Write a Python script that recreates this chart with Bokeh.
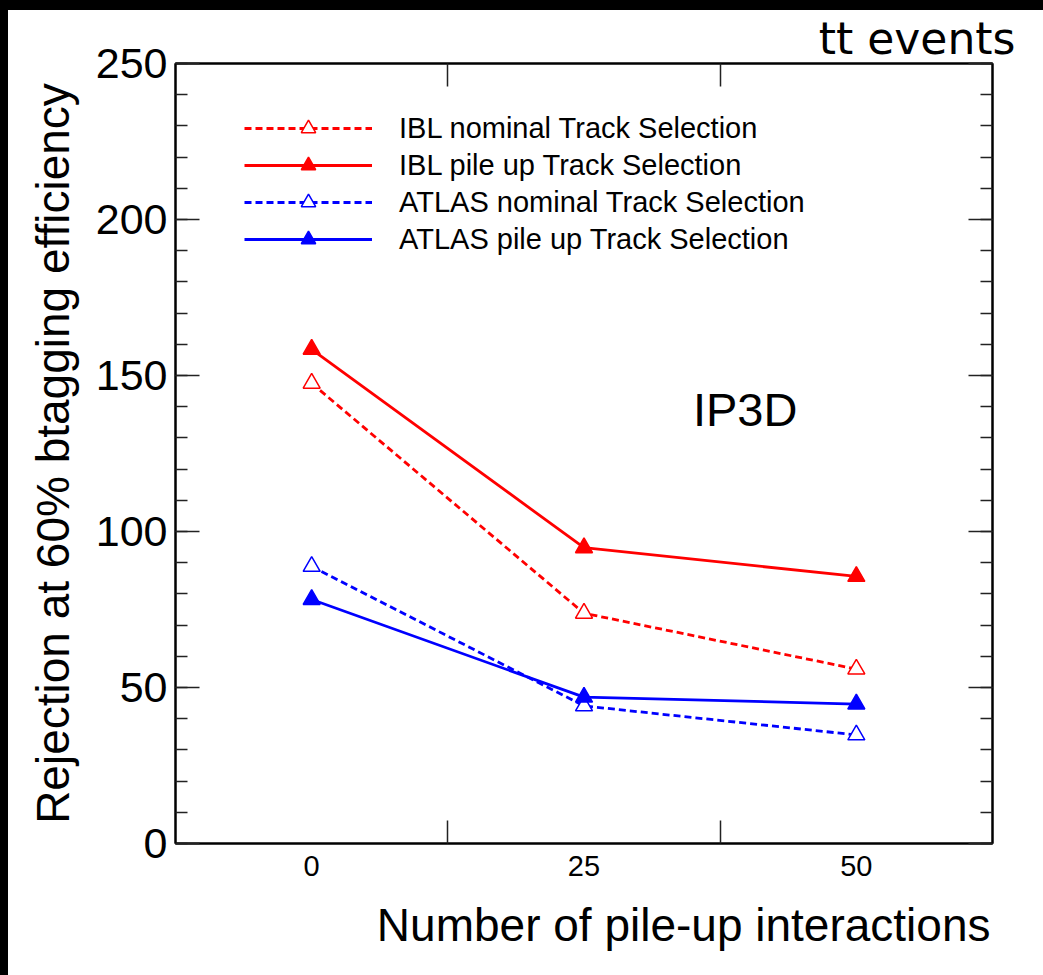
from bokeh.plotting import figure
from bokeh.models import (Range1d, LinearAxis, FixedTicker, SingleIntervalTicker,
                          Legend, LegendItem, Label, Title, Div, ColumnDataSource)
from bokeh.layouts import column, row
from bokeh.embed import file_html
from bokeh.resources import INLINE

# ---- data ----
pileup = [0, 25, 50]
ibl_nominal = [147.5, 73.8, 55.9]
ibl_pileup = [158.4, 94.8, 85.6]
atlas_nominal = [88.8, 44.1, 34.8]
atlas_pileup = [78.2, 46.9, 44.7]
x_tick_labels = ["0", "25", "50"]
series_names = ["IBL nominal Track Selection", "IBL pile up Track Selection",
                "ATLAS nominal Track Selection", "ATLAS pile up Track Selection"]
y_major = [0, 50, 100, 150, 200, 250]

FONT = "Liberation Sans"

p = figure(width=1035, height=965, output_backend="svg", toolbar_location=None,
           x_range=Range1d(-12.5, 62.5), y_range=Range1d(0, 250),
           min_border_left=167, min_border_right=51, min_border_top=50,
           min_border_bottom=132, x_axis_location=None, y_axis_location=None)
p.grid.visible = False
p.outline_line_color = "black"
p.outline_line_width = 2
p.background_fill_color = "white"
p.border_fill_color = "white"


def style_axis(ax):
    ax.axis_line_color = "black"
    ax.axis_line_width = 2
    ax.major_tick_line_color = "#222222"
    ax.minor_tick_line_color = "#222222"
    ax.major_tick_line_width = 1.5
    ax.minor_tick_line_width = 1.5


# y axes
yl = LinearAxis(ticker=SingleIntervalTicker(interval=50, num_minor_ticks=5),
                axis_label="Rejection at 60% btagging efficiency")
style_axis(yl)
yl.major_tick_in = 24
yl.major_tick_out = 0
yl.minor_tick_in = 12
yl.minor_tick_out = 0
yl.major_label_standoff = 8
yl.major_label_text_font = FONT
yl.major_label_text_font_size = "43px"
yl.major_label_text_color = "black"
yl.axis_label_text_font = FONT
yl.axis_label_text_font_size = "46px"
yl.axis_label_text_font_style = "normal"
yl.axis_label_text_color = "black"
yl.axis_label_standoff = 14
p.add_layout(yl, "left")

yr = LinearAxis(ticker=SingleIntervalTicker(interval=50, num_minor_ticks=5))
style_axis(yr)
yr.major_tick_in = 24
yr.major_tick_out = 0
yr.minor_tick_in = 12
yr.minor_tick_out = 0
yr.major_label_overrides = {v: "" for v in y_major}
yr.major_label_standoff = 0
p.add_layout(yr, "right")

# x axes
xb = LinearAxis(ticker=FixedTicker(ticks=pileup, minor_ticks=[12.5, 37.5]))
style_axis(xb)
xb.major_label_overrides = {v: s for v, s in zip(pileup, x_tick_labels)}
xb.major_tick_in = 0
xb.major_tick_out = 0
xb.minor_tick_in = 23
xb.minor_tick_out = 0
xb.major_label_standoff = 12
xb.major_label_text_font = FONT
xb.major_label_text_font_size = "29px"
xb.major_label_text_color = "black"
p.add_layout(xb, "below")

xt = LinearAxis(ticker=FixedTicker(ticks=[], minor_ticks=[12.5, 37.5]))
style_axis(xt)
xt.minor_tick_in = 23
xt.minor_tick_out = 0
xt.major_label_standoff = 0
p.add_layout(xt, "above")

# titles outside the frame
p.add_layout(Title(text="Number of pile-up interactions", align="right", offset=2,
                   vertical_align="bottom", standoff=36,
                   text_font=FONT, text_font_size="46px", text_font_style="normal",
                   text_color="black"), "below")
p.add_layout(Title(text="tt events", align="right", offset=-23,
                   vertical_align="bottom", standoff=0,
                   text_font="DejaVu Sans", text_font_size="44px",
                   text_font_style="normal", text_color="black"), "above")

p.add_layout(Label(x=35, y=139, text="IP3D", text_align="left",
                   text_baseline="alphabetic", text_font=FONT,
                   text_font_size="47px", text_color="black"))

# series
styles = [
    (ibl_nominal, "red", "dashed", True),
    (ibl_pileup, "red", "solid", False),
    (atlas_nominal, "blue", "dashed", True),
    (atlas_pileup, "blue", "solid", False),
]
items = []
for (vals, color, dash, hollow), name in zip(styles, series_names):
    src = ColumnDataSource(dict(x=pileup, y=vals))
    ln = p.line("x", "y", source=src, line_color=color, line_width=2.8,
                line_dash=("7 4" if dash == "dashed" else "solid"))
    sc = p.scatter("x", "y", source=src, marker="triangle", size=17,
                   line_color=color, line_width=1.5,
                   fill_color=("white" if hollow else color))
    items.append(LegendItem(label=name, renderers=[ln, sc]))

legend = Legend(items=items, location=(69, 586), glyph_width=128, glyph_height=36,
                label_height=36, spacing=1, label_standoff=27, padding=0, margin=0,
                label_text_font=FONT, label_text_font_size="29px",
                label_text_color="black", border_line_color=None,
                background_fill_alpha=0)
p.add_layout(legend, "center")

top_bar = Div(width=1043, height=10, margin=0, styles={"background-color": "black"})
left_bar = Div(width=8, height=965, margin=0, styles={"background-color": "black"})
layout = column(top_bar, row(left_bar, p, spacing=0), spacing=0)

open("out.html", "w").write(file_html(layout, INLINE))
